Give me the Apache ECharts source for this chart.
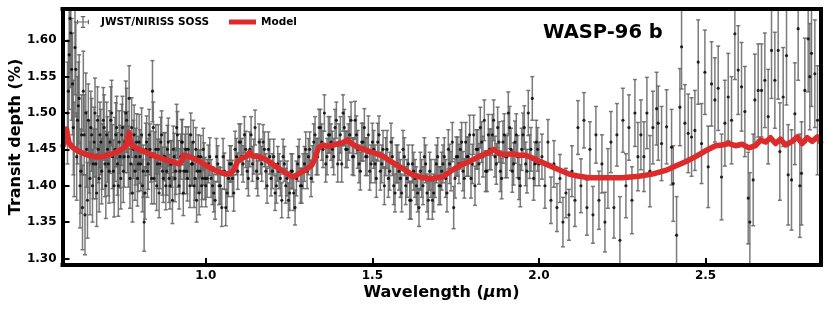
<!DOCTYPE html>
<html>
<head>
<meta charset="utf-8">
<script src="https://cdn.jsdelivr.net/npm/echarts@6/dist/echarts.min.js"></script>
<style>
html,body{margin:0;padding:0;background:#fff;}
#chart{width:830px;height:312px;}
</style>
</head>
<body>
<div id="chart"></div>
<script>
// ---- Observed spectrum (set A): wavelength (um), transit depth (%), 1-sigma error (%)
const wavelength = [
0.585,0.590,0.595,0.600,0.605,0.610,0.615,0.620,0.625,0.630,0.635,0.640,0.645,0.650,0.655,0.660,0.665,0.670,0.675,0.680,0.685,0.690,0.695,0.700,
0.705,0.710,0.715,0.720,0.725,0.730,0.735,0.740,0.745,0.750,0.755,0.760,0.765,0.770,0.775,0.780,0.785,0.790,0.795,0.800,
0.805,0.810,0.815,0.820,0.825,0.830,0.835,0.840,0.845,0.850,0.855,0.860,0.865,0.870,0.875,0.880,0.885,0.890,0.895,0.900,
0.905,0.910,0.915,0.920,0.925,0.930,0.935,0.940,0.945,0.950,0.955,0.960,0.965,0.970,0.975,0.980,0.985,0.990,0.995,1.000,
1.008,1.016,1.024,1.032,1.040,1.048,1.056,1.064,1.072,1.080,1.088,1.096,1.104,1.112,1.120,1.128,1.136,1.144,1.152,1.160,
1.168,1.176,1.184,1.192,1.200,1.208,1.216,1.224,1.232,1.240,1.248,1.256,1.264,1.272,1.280,1.288,1.296,
1.304,1.312,1.320,1.328,1.336,1.344,1.352,1.360,1.368,1.376,1.384,1.392,1.400,1.408,1.416,1.424,1.432,1.440,1.448,1.456,
1.464,1.472,1.480,1.488,1.496,
1.504,1.512,1.520,1.528,1.536,1.544,1.552,1.560,1.568,1.576,1.584,1.592,1.600,1.608,1.616,1.624,1.632,1.640,1.648,1.656,
1.664,1.672,1.680,1.688,1.696,1.704,1.712,1.720,1.728,1.736,1.744,1.752,
1.760,1.768,1.776,1.784,1.792,1.800,1.808,1.816,1.824,1.832,1.840,1.848,1.856,1.864,1.872,1.880,1.888,1.896,1.904,1.912,
1.920,1.928,1.936,1.944,1.952,1.960,1.968,1.976,1.984,1.992,2.000,
2.009,2.018,2.027,2.036,2.045,2.054,2.063,2.072,2.081,2.090,2.099,2.108,2.117,2.126,2.135,2.144,2.153,2.162,2.171,2.180,
2.189,2.198,2.207,2.216,2.225,2.234,2.243,2.252,2.261,2.270,2.279,2.288,2.297,
2.306,2.315,2.324,2.333,2.342,2.353,2.358,2.368,2.383,2.398,2.403,2.413,2.423,2.428,2.438,2.448,2.458,2.468,2.478,2.488,
2.498,2.508,2.518,2.528,2.538,2.548,2.558,2.568,2.578,2.588,2.598,2.608,2.618,2.628,2.633,2.643,2.648,2.658,2.668,2.678,
2.688,2.698,2.708,2.718,2.723,2.733,2.743,2.748,2.758,2.768,2.778,2.783,2.788,2.798,2.808,2.813,2.818,2.828,2.836
];
const depth = [
1.50,1.58,1.61,1.54,1.45,1.56,1.49,1.52,1.42,1.37,1.47,1.50,1.38,1.44,1.48,1.40,1.46,1.43,1.49,1.41,1.46,1.44,1.48,1.40,
1.45,1.42,1.49,1.44,1.40,1.47,1.43,1.46,1.41,1.48,1.44,1.50,1.46,1.52,1.43,1.39,1.47,1.44,1.41,1.46,
1.43,1.40,1.35,1.45,1.42,1.47,1.44,1.53,1.41,1.45,1.43,1.39,1.46,1.42,1.44,1.40,1.45,1.41,1.43,1.38,
1.44,1.42,1.47,1.40,1.44,1.46,1.42,1.45,1.41,1.44,1.47,1.43,1.40,1.45,1.42,1.39,1.44,1.41,1.43,1.40,
1.43,1.41,1.39,1.44,1.40,1.37,1.42,1.39,1.43,1.41,1.45,1.42,1.46,1.43,1.45,1.41,1.47,1.44,1.42,1.46,
1.43,1.45,1.40,1.44,1.42,1.39,1.43,1.41,1.44,1.40,1.38,1.42,1.39,1.41,1.44,1.40,1.43,
1.42,1.45,1.43,1.47,1.44,1.48,1.45,1.43,1.47,1.46,1.44,1.49,1.46,1.43,1.48,1.45,1.47,1.44,1.49,1.45,
1.42,1.46,1.44,1.47,1.43,
1.45,1.41,1.47,1.43,1.40,1.45,1.42,1.44,1.39,1.43,1.41,1.45,1.40,1.43,1.38,1.42,1.40,1.37,1.41,1.44,
1.39,1.42,1.38,1.41,1.44,1.40,1.43,1.41,1.45,1.42,1.37,1.44,
1.43,1.46,1.41,1.44,1.47,1.43,1.40,1.45,1.48,1.44,1.42,1.47,1.45,1.49,1.43,1.46,1.41,1.47,1.44,1.48,
1.42,1.46,1.44,1.40,1.47,1.43,1.50,1.45,1.41,1.46,1.43,
1.44,1.40,1.46,1.38,1.43,1.37,1.41,1.35,1.39,1.36,1.42,1.38,1.48,1.40,1.49,1.37,1.45,1.36,1.47,1.38,
1.43,1.35,1.41,1.46,1.37,1.47,1.325,1.49,1.40,1.48,1.38,1.50,1.44,
1.47,1.44,1.50,1.42,1.48,1.506,1.486,1.458,1.481,1.453,1.403,1.332,1.508,1.591,1.486,1.472,1.467,1.476,1.570,1.458,
1.556,1.426,1.540,1.518,1.534,1.412,1.486,1.522,1.490,1.609,1.559,1.536,1.502,1.383,1.350,1.408,1.518,1.531,1.531,1.545,
1.495,1.586,1.545,1.586,1.447,1.522,1.579,1.415,1.408,1.499,1.616,1.400,1.417,1.531,1.602,1.550,1.582,1.554,1.490
];
const depthErr = [
0.070,0.075,0.075,0.070,0.065,0.065,0.060,0.060,0.058,0.058,0.055,0.055,0.052,0.050,0.050,0.050,0.048,0.048,0.046,0.046,0.045,0.045,0.045,0.045,
0.045,0.044,0.046,0.044,0.043,0.044,0.043,0.043,0.042,0.043,0.042,0.044,0.042,0.045,0.041,0.040,0.041,0.039,0.038,0.038,
0.037,0.036,0.040,0.036,0.036,0.035,0.035,0.042,0.035,0.034,0.034,0.034,0.034,0.033,0.033,0.033,0.033,0.033,0.032,0.032,
0.032,0.032,0.032,0.032,0.031,0.031,0.031,0.031,0.031,0.031,0.030,0.030,0.030,0.030,0.030,0.030,0.029,0.029,0.029,0.029,
0.026,0.026,0.026,0.025,0.026,0.026,0.025,0.025,0.025,0.025,0.025,0.025,0.025,0.025,0.025,0.024,0.025,0.024,0.024,0.025,
0.024,0.024,0.024,0.024,0.024,0.024,0.024,0.024,0.024,0.024,0.024,0.024,0.024,0.024,0.024,0.024,0.024,
0.024,0.024,0.025,0.025,0.025,0.025,0.025,0.025,0.025,0.025,0.025,0.025,0.025,0.025,0.025,0.025,0.025,0.025,0.026,0.026,
0.026,0.026,0.026,0.026,0.026,
0.026,0.026,0.026,0.026,0.026,0.026,0.026,0.026,0.026,0.026,0.026,0.026,0.026,0.026,0.026,0.026,0.026,0.026,0.026,0.026,
0.026,0.026,0.026,0.026,0.026,0.026,0.026,0.026,0.027,0.027,0.029,0.027,
0.027,0.027,0.027,0.027,0.027,0.027,0.027,0.027,0.028,0.028,0.028,0.028,0.028,0.028,0.028,0.028,0.028,0.029,0.029,0.029,
0.029,0.029,0.029,0.029,0.030,0.030,0.031,0.030,0.030,0.030,0.030,
0.031,0.031,0.031,0.032,0.032,0.033,0.033,0.034,0.034,0.035,0.035,0.036,0.037,0.037,0.038,0.038,0.038,0.039,0.039,0.040,
0.040,0.041,0.041,0.042,0.042,0.043,0.060,0.044,0.044,0.045,0.046,0.046,0.047,
0.048,0.048,0.049,0.049,0.050,0.050,0.051,0.051,0.051,0.052,0.052,0.053,0.053,0.058,0.053,0.054,0.054,0.055,0.058,0.055,
0.058,0.056,0.058,0.058,0.058,0.059,0.059,0.060,0.060,0.063,0.061,0.061,0.062,0.063,0.068,0.063,0.063,0.064,0.064,0.065,
0.065,0.066,0.066,0.067,0.067,0.068,0.068,0.069,0.069,0.070,0.071,0.071,0.071,0.072,0.073,0.073,0.073,0.074,0.075
];

// ---- Observed spectrum (set B, interleaved bins)
const wavelengthB = [
0.5875,0.5925,0.5975,0.6025,0.6075,0.6125,0.6175,0.6225,0.6275,0.6325,0.6375,0.6425,0.6475,0.6525,0.6575,0.6625,0.6675,0.6725,0.6775,0.6825,0.6875,0.6925,0.6975,
0.7025,0.7075,0.7125,0.7175,0.7225,0.7275,0.7325,0.7375,0.7425,0.7475,0.7525,0.7575,0.7625,0.7675,0.7725,0.7775,0.7825,0.7875,0.7925,0.7975,
0.8025,0.8075,0.8125,0.8175,0.8225,0.8275,0.8325,0.8375,0.8425,0.8475,0.8525,0.8575,0.8625,0.8675,0.8725,0.8775,0.8825,0.8875,0.8925,0.8975,
0.9025,0.9075,0.9125,0.9175,0.9225,0.9275,0.9325,0.9375,0.9425,0.9475,0.9525,0.9575,0.9625,0.9675,0.9725,0.9775,0.9825,0.9875,0.9925,0.9975,
1.004,1.012,1.020,1.028,1.036,1.044,1.052,1.060,1.068,1.076,1.084,1.092,1.100,
1.108,1.116,1.124,1.132,1.140,1.148,1.156,1.164,1.172,1.180,1.188,1.196,
1.204,1.212,1.220,1.228,1.236,1.244,1.252,1.260,1.268,1.276,1.284,1.292,1.300,
1.308,1.316,1.324,1.332,1.340,1.348,1.356,1.364,1.372,1.380,1.388,1.396,1.404,1.412,1.420,1.428,1.436,1.444,1.452,1.460,1.468,1.476,1.484,1.492,1.500,
1.508,1.516,1.524,1.532,1.540,1.548,1.556,1.564,1.572,1.580,1.588,1.596,1.604,1.612,1.620,1.628,1.636,1.644,1.652,1.660,1.668,1.676,1.684,1.692,1.700,1.708,1.716,1.724,1.732,1.740,1.748,1.756,
1.764,1.772,1.780,1.788,1.796,1.804,1.812,1.820,1.828,1.836,1.844,1.852,1.860,1.868,1.876,1.884,1.892,1.900,1.908,1.916,1.924,1.932,1.940,1.948,1.956,1.964,1.972,1.980,1.988,1.996
];
const depthB = [
1.53,1.63,1.56,1.48,1.59,1.44,1.51,1.40,1.47,1.53,1.36,1.45,1.49,1.41,1.47,1.43,1.50,1.39,1.45,1.47,1.42,1.49,1.43,
1.47,1.43,1.46,1.50,1.42,1.45,1.48,1.40,1.44,1.47,1.42,1.46,1.49,1.44,1.41,1.48,1.45,1.42,1.46,1.43,
1.44,1.47,1.42,1.39,1.46,1.43,1.45,1.41,1.48,1.44,1.40,1.45,1.43,1.47,1.41,1.44,1.42,1.46,1.40,1.43,
1.45,1.41,1.48,1.43,1.42,1.46,1.39,1.44,1.42,1.45,1.40,1.43,1.46,1.41,1.38,1.44,1.42,1.40,1.45,1.41,
1.41,1.44,1.40,1.38,1.43,1.40,1.44,1.37,1.41,1.43,1.39,1.44,1.46,
1.44,1.47,1.42,1.45,1.43,1.48,1.41,1.44,1.46,1.42,1.45,1.41,
1.44,1.40,1.42,1.38,1.43,1.41,1.39,1.42,1.37,1.43,1.40,1.42,1.45,
1.44,1.41,1.46,1.44,1.48,1.46,1.50,1.44,1.47,1.45,1.48,1.43,1.47,1.50,1.45,1.46,1.49,1.44,1.47,1.43,1.46,1.48,1.44,1.42,1.46,
1.43,1.46,1.42,1.45,1.44,1.41,1.46,1.40,1.43,1.42,1.39,1.44,1.41,1.38,1.43,1.41,1.39,1.42,1.40,1.43,1.38,1.41,1.39,1.43,1.40,1.42,1.44,1.39,1.43,1.46,1.41,1.44,
1.45,1.42,1.46,1.44,1.41,1.47,1.45,1.43,1.46,1.49,1.42,1.45,1.47,1.44,1.48,1.42,1.46,1.44,1.50,1.45,1.43,1.47,1.41,1.45,1.48,1.42,1.44,1.52,1.43,1.45
];
const depthErrB = [
0.070,0.075,0.070,0.065,0.065,0.060,0.060,0.058,0.055,0.055,0.055,0.052,0.050,0.050,0.050,0.048,0.048,0.046,0.046,0.045,0.045,0.045,0.045,
0.045,0.044,0.043,0.045,0.043,0.044,0.043,0.042,0.043,0.042,0.043,0.042,0.044,0.042,0.041,0.041,0.040,0.040,0.039,0.038,
0.037,0.037,0.036,0.036,0.036,0.035,0.035,0.035,0.035,0.034,0.034,0.034,0.034,0.033,0.033,0.033,0.033,0.033,0.032,0.032,
0.032,0.032,0.032,0.032,0.031,0.031,0.031,0.031,0.031,0.031,0.030,0.030,0.030,0.030,0.030,0.030,0.029,0.029,0.029,0.029,
0.026,0.026,0.026,0.026,0.025,0.025,0.025,0.025,0.025,0.025,0.025,0.025,0.025,
0.025,0.025,0.024,0.024,0.024,0.024,0.024,0.024,0.024,0.024,0.024,0.024,
0.024,0.024,0.024,0.024,0.024,0.024,0.024,0.024,0.024,0.024,0.024,0.024,0.024,
0.025,0.025,0.025,0.025,0.025,0.025,0.025,0.025,0.025,0.025,0.025,0.025,0.025,0.025,0.025,0.025,0.025,0.026,0.026,0.026,0.026,0.026,0.026,0.026,0.026,
0.026,0.026,0.026,0.026,0.026,0.026,0.026,0.026,0.026,0.026,0.026,0.026,0.026,0.026,0.026,0.026,0.026,0.026,0.026,0.026,0.026,0.026,0.026,0.026,0.026,0.026,0.026,0.026,0.027,0.027,0.027,0.027,
0.027,0.027,0.027,0.027,0.027,0.027,0.027,0.028,0.028,0.028,0.028,0.028,0.028,0.028,0.028,0.028,0.029,0.029,0.029,0.029,0.029,0.029,0.029,0.029,0.030,0.030,0.030,0.030,0.030,0.030
];

// ---- Best-fit model
const modelWavelength = [
0.572,0.578,0.582,0.585,0.589,0.597,0.615,0.640,0.665,0.690,0.715,0.740,0.755,0.763,0.767,0.770,0.773,0.778,0.795,0.820,
0.850,0.880,0.905,0.920,0.928,0.933,0.945,0.960,0.980,1.000,1.020,1.040,1.060,1.075,1.085,1.095,1.110,1.125,1.132,1.140,
1.160,1.180,1.200,1.225,1.250,1.262,1.280,1.300,1.318,1.328,1.338,1.350,1.370,1.390,1.410,1.425,1.440,1.460,1.480,1.500,
1.530,1.560,1.590,1.620,1.650,1.680,1.710,1.735,1.760,1.790,1.820,1.845,1.865,1.880,1.900,1.920,1.940,1.960,1.980,2.000,
2.030,2.060,2.090,2.120,2.150,2.200,2.250,2.300,2.340,2.380,2.410,2.440,2.470,2.500,2.530,2.550,2.570,2.590,2.610,2.630,
2.650,2.665,2.680,2.695,2.710,2.725,2.740,2.760,2.775,2.790,2.805,2.820,2.835,2.845
];
const modelDepth = [
1.455,1.462,1.478,1.476,1.460,1.454,1.448,1.443,1.440,1.440,1.443,1.448,1.452,1.458,1.468,1.473,1.463,1.455,1.451,1.446,
1.440,1.436,1.432,1.430,1.434,1.442,1.441,1.438,1.434,1.428,1.423,1.419,1.416,1.417,1.422,1.433,1.438,1.441,1.446,1.441,
1.440,1.436,1.430,1.422,1.415,1.412,1.417,1.422,1.428,1.438,1.452,1.456,1.454,1.457,1.459,1.463,1.457,1.452,1.449,1.446,
1.441,1.432,1.424,1.415,1.411,1.410,1.412,1.420,1.427,1.433,1.440,1.445,1.450,1.444,1.443,1.444,1.442,1.442,1.438,1.434,
1.428,1.422,1.416,1.413,1.411,1.411,1.411,1.413,1.416,1.421,1.427,1.433,1.440,1.448,1.455,1.456,1.458,1.455,1.457,1.452,
1.455,1.463,1.460,1.466,1.458,1.464,1.456,1.461,1.467,1.458,1.466,1.461,1.467,1.460
];

// ---- Axis ticks
const xTicks = [1.0, 1.5, 2.0, 2.5];
const yTicks = [1.30, 1.35, 1.40, 1.45, 1.50, 1.55, 1.60];

const allWl = wavelength.concat(wavelengthB);
const allDepth = depth.concat(depthB);
const allErr = depthErr.concat(depthErrB);
const obsData = allWl.map((w, i) => [w, allDepth[i], allDepth[i] - allErr[i], allDepth[i] + allErr[i]]);
const pointData = allWl.map((w, i) => [w, allDepth[i]]);
const modelData = modelWavelength.map((w, i) => [w, modelDepth[i]]);

const FONT = 'DejaVu Sans';
const X_MIN = 0.570, X_MAX = 2.845, Y_MIN = 1.291, Y_MAX = 1.643;

const chart = echarts.init(document.getElementById('chart'), null, {renderer: 'canvas'});

function renderBar(params, api) {
  const x = api.value(0);
  const pl = api.coord([x, api.value(2)]);
  const ph = api.coord([x, api.value(3)]);
  const cx = pl[0];
  const cap = 2;
  const st = {stroke: 'rgba(100,100,100,0.85)', lineWidth: 1.5};
  return {
    type: 'group',
    children: [
      {type: 'line', shape: {x1: cx, y1: pl[1], x2: cx, y2: ph[1]}, style: st},
      {type: 'line', shape: {x1: cx - cap, y1: pl[1], x2: cx + cap, y2: pl[1]}, style: st},
      {type: 'line', shape: {x1: cx - cap, y1: ph[1], x2: cx + cap, y2: ph[1]}, style: st}
    ]
  };
}

const axisCommonX = {type: 'value', min: X_MIN, max: X_MAX, z: 10, splitLine: {show: false}};
const axisCommonY = {type: 'value', min: Y_MIN, max: Y_MAX, z: 10, splitLine: {show: false}};
const frameLine = {show: true, onZero: false, lineStyle: {color: '#000', width: 4, cap: 'square'}};

const errIcon = 'path://M5.4,0h1.2v12h-1.2z M0,5.4h12v1.2h-12z M3.8,0h4.4v1.2h-4.4z M3.8,10.8h4.4v1.2h-4.4z M0,3.8h1.2v4.4h-1.2z M10.8,3.8h1.2v4.4h-1.2z';

const option = {
  animation: false,
  backgroundColor: '#fff',
  grid: {left: 62.5, right: 9.5, top: 9, bottom: 47, containLabel: false, outerBoundsMode: 'none'},
  title: {
    text: 'WASP-96 b', left: 543, top: 23, padding: 0,
    textStyle: {fontFamily: FONT, fontSize: 19.5, fontWeight: 'bold', color: '#000', lineHeight: 20}
  },
  legend: [
    {
      left: 77, top: 16, padding: 0, itemWidth: 12, itemHeight: 12, selectedMode: false,
      data: [{name: 'JWST/NIRISS SOSS', icon: errIcon, itemStyle: {color: '#666'}}],
      textStyle: {fontFamily: FONT, fontSize: 10.5, fontWeight: 'bold', color: '#000', lineHeight: 12, padding: [0, 0, 0, 7]}
    },
    {
      left: 229, top: 16, padding: 0, itemWidth: 27, itemHeight: 5, selectedMode: false,
      data: [{name: 'Model', icon: 'rect', itemStyle: {color: '#dd2a2a'}}],
      textStyle: {fontFamily: FONT, fontSize: 10.5, fontWeight: 'bold', color: '#000', lineHeight: 12}
    }
  ],
  xAxis: [
    Object.assign({}, axisCommonX, {
      position: 'bottom',
      name: '{a|Wavelength (}{b|μ}{a|m)}',
      nameLocation: 'middle', nameGap: 20, nameMoveOverlap: false,
      nameTextStyle: {
        rich: {
          a: {fontFamily: FONT, fontSize: 16, fontWeight: 'bold', color: '#000'},
          b: {fontFamily: FONT, fontSize: 16, fontWeight: 'bold', fontStyle: 'italic', color: '#000'}
        }
      },
      axisLine: frameLine,
      axisTick: {show: true, inside: true, length: 7, customValues: xTicks, lineStyle: {color: '#000', width: 2}},
      axisLabel: {
        show: true, customValues: xTicks, margin: 5,
        fontFamily: FONT, fontSize: 12, fontWeight: 'bold', color: '#000',
        formatter: v => v.toFixed(1)
      }
    }),
    Object.assign({}, axisCommonX, {
      position: 'top', axisLine: frameLine, axisTick: {show: false}, axisLabel: {show: false}
    })
  ],
  yAxis: [
    Object.assign({}, axisCommonY, {
      position: 'left',
      name: 'Transit depth (%)', nameLocation: 'middle', nameGap: 39, nameRotate: 90, nameMoveOverlap: false,
      nameTextStyle: {fontFamily: FONT, fontSize: 16, fontWeight: 'bold', color: '#000'},
      axisLine: frameLine,
      axisTick: {show: true, inside: true, length: 7, customValues: yTicks, lineStyle: {color: '#000', width: 2}},
      axisLabel: {
        show: true, customValues: yTicks, margin: 6,
        fontFamily: FONT, fontSize: 12, fontWeight: 'bold', color: '#000',
        formatter: v => v.toFixed(2)
      }
    }),
    Object.assign({}, axisCommonY, {
      position: 'right', axisLine: frameLine, axisTick: {show: false}, axisLabel: {show: false}
    })
  ],
  series: [
    {
      name: 'JWST/NIRISS SOSS', type: 'custom', renderItem: renderBar, clip: true,
      xAxisIndex: 0, yAxisIndex: 0,
      encode: {x: 0, y: [1, 2, 3]},
      itemStyle: {color: '#666'},
      data: obsData, z: 2, silent: true
    },
    {
      name: 'JWST/NIRISS SOSS', type: 'scatter', clip: true,
      xAxisIndex: 0, yAxisIndex: 0,
      symbol: 'circle', symbolSize: 3.2,
      itemStyle: {color: '#000'},
      data: pointData, z: 3, silent: true
    },
    {
      name: 'Model', type: 'line', clip: true,
      xAxisIndex: 0, yAxisIndex: 0,
      showSymbol: false, symbol: 'none',
      lineStyle: {color: '#dd2a2a', width: 5.5, join: 'round', cap: 'round'},
      itemStyle: {color: '#dd2a2a'},
      data: modelData, z: 4, silent: true
    }
  ]
};
chart.setOption(option);
</script>
</body>
</html>
